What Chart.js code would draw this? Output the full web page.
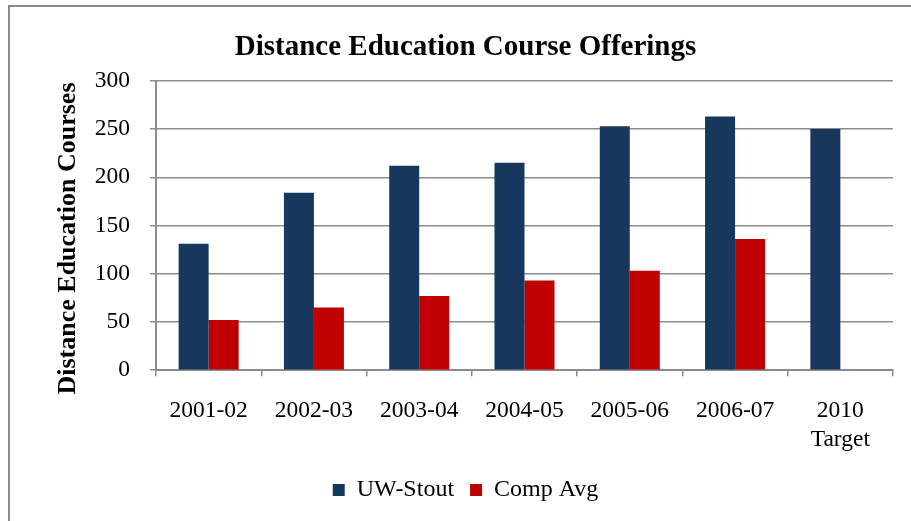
<!DOCTYPE html>
<html>
<head>
<meta charset="utf-8">
<script src="https://cdn.jsdelivr.net/npm/chart.js@4"></script>
<style>
    html, body { margin: 0; padding: 0; background: #fff; overflow: hidden; }
    #wrap { position: relative; width: 911px; height: 521px; }
    #frame {
        position: absolute; left: 8px; top: 5px; width: 1000px; height: 1000px;
        border-left: 2px solid #8c8c8c; border-top: 2px solid #8c8c8c;
        pointer-events: none;
    }
</style>
</head>
<body>
<div id="wrap">
    <canvas id="offerings"></canvas>
    <div id="frame"></div>
</div>
<script>
const years = ['2001-02', '2002-03', '2003-04', '2004-05', '2005-06', '2006-07', ['2010', 'Target']];
const uwStout = [131, 184, 212, 215, 253, 263, 250];
const compAvg = [52, 65, 77, 93, 103, 136, null];
const yTicks = [0, 50, 100, 150, 200, 250, 300];
const yTitle = 'Distance Education Courses';

const serif = 'Liberation Serif, Times New Roman, serif';
const gridGray = '#8c8c8c';

// y axis title, drawn a little below the axis middle like the original
const yTitlePlugin = {
    id: 'yTitle',
    afterDraw: function(chart) {
        var c = chart.ctx, area = chart.chartArea;
        c.save();
        c.translate(68, (area.top + area.bottom) / 2 + 13);
        c.rotate(-Math.PI / 2);
        c.textAlign = 'center';
        c.textBaseline = 'middle';
        c.fillStyle = '#000';
        c.font = 'bold 26px ' + serif;
        c.fillText(yTitle, 0, 0);
        c.restore();
    }
};

document.addEventListener("DOMContentLoaded", function() {
    var ctx = document.getElementById("offerings");

    var data = {
        labels: years,
        datasets: [{
            label: 'UW-Stout',
            backgroundColor: '#17375E',
            data: uwStout
        }, {
            label: 'Comp Avg',
            backgroundColor: '#C00000',
            data: compAvg
        }]
    };

    var options = {
        responsive: true,
        maintainAspectRatio: false,
        animation: false,
        layout: {
            padding: { left: 38, right: 18, top: 30, bottom: 9 }
        },
        datasets: {
            bar: { categoryPercentage: 0.57, barPercentage: 1.0 }
        },
        plugins: {
            title: {
                display: true,
                text: 'Distance Education Course Offerings',
                color: '#000',
                font: { family: serif, size: 29, weight: 'bold' },
                padding: { top: 0, bottom: 16 }
            },
            legend: {
                position: 'bottom',
                labels: {
                    color: '#000',
                    font: { family: serif, size: 24 },
                    boxWidth: 12,
                    boxHeight: 12,
                    padding: 16
                }
            },
            tooltip: { enabled: false }
        },
        scales: {
            x: {
                afterFit: function(scale) {
                    scale.height -= 12;
                },
                grid: {
                    offset: true,
                    drawOnChartArea: false,
                    drawTicks: true,
                    tickLength: 6,
                    color: gridGray,
                    lineWidth: 1.5
                },
                border: { color: gridGray, width: 2 },
                ticks: {
                    color: '#000',
                    font: { family: serif, size: 23.5, lineHeight: 1.23 },
                    padding: 20,
                    maxRotation: 0
                }
            },
            y: {
                min: 0,
                max: 300,
                afterBuildTicks: function(scale) {
                    scale.ticks = yTicks.map(function(v) { return { value: v }; });
                },
                afterFit: function(scale) {
                    scale.width = 118;
                },
                grid: {
                    color: gridGray,
                    lineWidth: 1.5,
                    tickLength: 6
                },
                border: { color: gridGray, width: 2 },
                ticks: {
                    color: '#000',
                    font: { family: serif, size: 23.5 },
                    padding: 20
                }
            }
        }
    };

    new Chart(ctx, {
        type: 'bar',
        data: data,
        options: options,
        plugins: [yTitlePlugin]
    });
});
</script>
</body>
</html>
